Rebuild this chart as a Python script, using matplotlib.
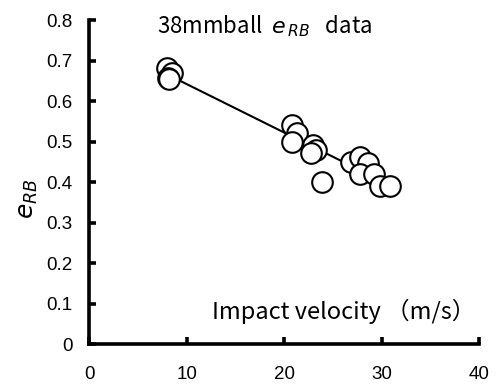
import numpy as np
import matplotlib
matplotlib.use("Agg")
import matplotlib.pyplot as plt

plt.rcParams['font.family'] = ['Liberation Sans', 'Noto Sans CJK JP', 'DejaVu Sans']

# --- DATA ---
velocity = [8.0, 8.5, 8.1, 8.2, 20.85, 21.3, 20.85, 23.0, 23.3, 22.8, 23.85,
            26.9, 27.8, 28.6, 27.8, 29.2, 29.8, 30.9]
e_rb = [0.682, 0.669, 0.657, 0.655, 0.541, 0.520, 0.500, 0.491, 0.479, 0.472, 0.400,
        0.450, 0.462, 0.446, 0.421, 0.421, 0.390, 0.391]
xticks = [0, 10, 20, 30, 40]
yticks = [0, 0.1, 0.2, 0.3, 0.4, 0.5, 0.6, 0.7, 0.8]

# --- FIT LINE ---
slope, intercept = np.polyfit(velocity, e_rb, 1)
fit_x = np.array([min(velocity), max(velocity)])
fit_y = slope * fit_x + intercept

# --- PLOT ---
fig = plt.figure(figsize=(4.99, 3.85), dpi=100)
ax = fig.add_axes([0.1784, 0.106, 0.782, 0.842])

ax.plot(fit_x, fit_y, color='black', lw=1.5, zorder=1)
ax.scatter(velocity, e_rb, s=220, facecolors='white', edgecolors='black',
           linewidths=1.5, zorder=2)

ax.set_xlim(0, 40)
ax.set_ylim(0, 0.8)
ax.set_xticks(xticks)
ax.set_yticks(yticks)
ax.set_xticklabels([str(t) for t in xticks])
ax.set_yticklabels(['0'] + [f"{t:.1f}" for t in yticks[1:]])

for side in ['top', 'right']:
    ax.spines[side].set_visible(False)
for side in ['left', 'bottom']:
    ax.spines[side].set_linewidth(2.6)

ax.tick_params(axis='both', direction='in', length=5, width=2.6, labelsize=13.5)
ax.tick_params(axis='x', pad=16)
ax.tick_params(axis='y', pad=12)

jp = ['Noto Sans CJK JP', 'DejaVu Sans']
ax.text(7.0, 0.785, r'38mmball  $e_{\,RB}$   data', fontsize=16, va='center', family=jp)
ax.text(39.6, 0.082, 'Impact velocity （m/s）', fontsize=17, ha='right', va='center', family=jp)
ax.set_ylabel(r'$e_{RB}$', fontsize=18)
ax.yaxis.set_label_coords(-0.125, 0.45)

plt.savefig('out.png', dpi=100)
